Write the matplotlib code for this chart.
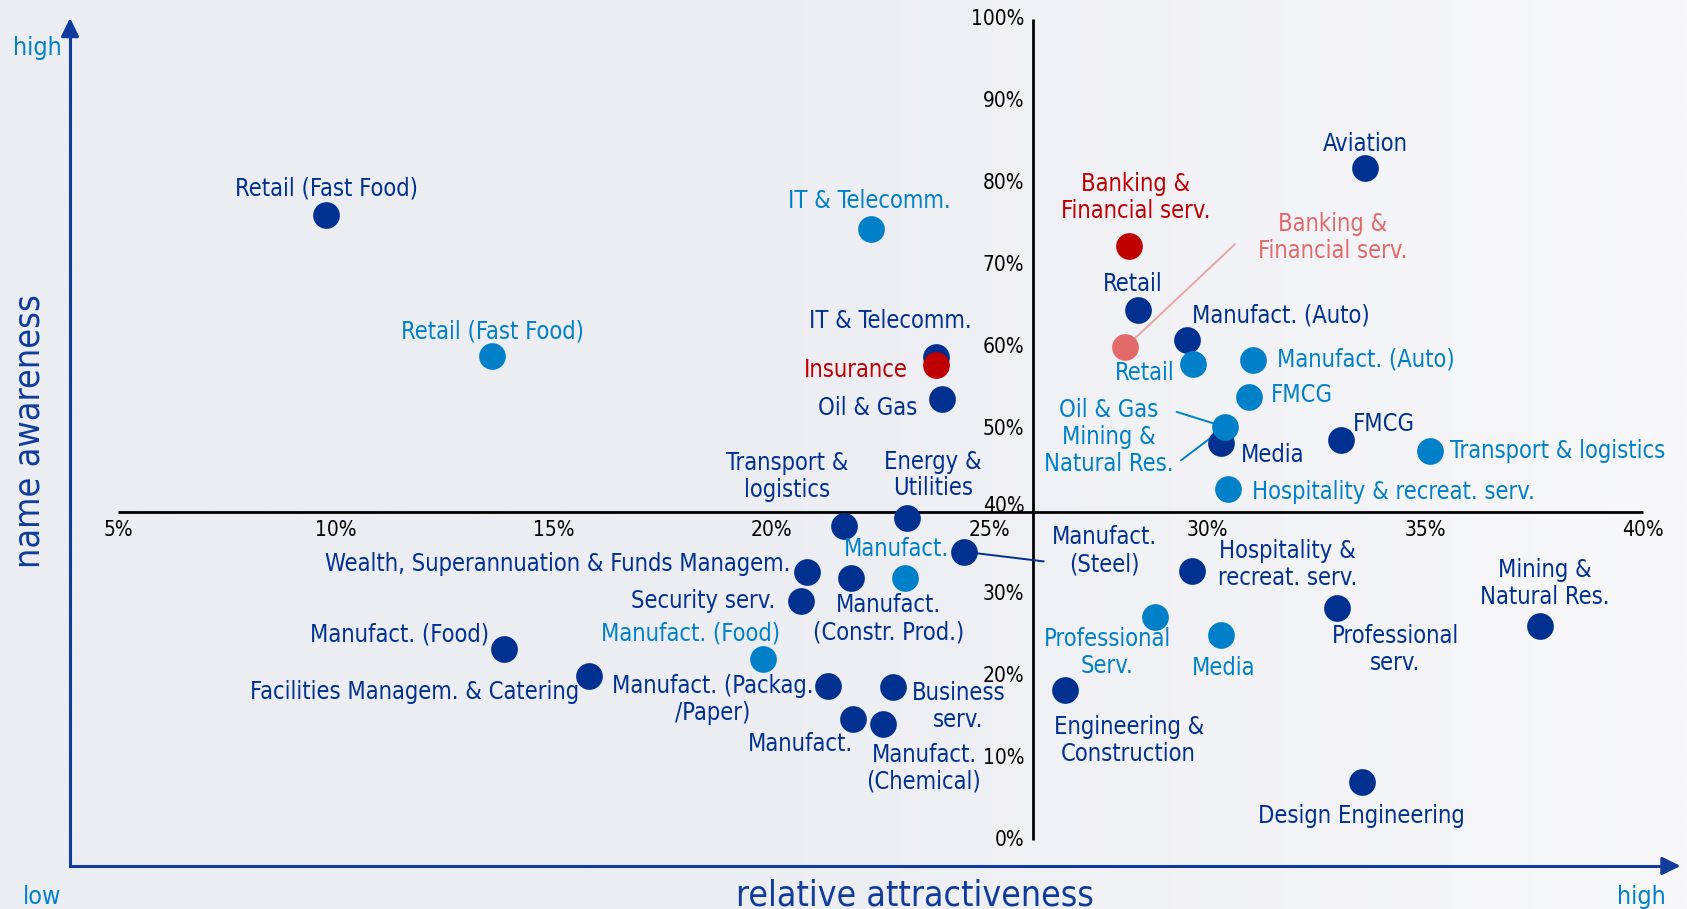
import os
import numpy as np
import matplotlib
matplotlib.use("Agg")
import matplotlib.pyplot as plt
from matplotlib import font_manager as fm
from matplotlib.font_manager import FontProperties

# ---------------- data ----------------
dark_names = ["Retail (Fast Food)", "IT & Telecomm.", "Oil & Gas", "Aviation", "Retail",
              "Manufact. (Auto)", "Media", "FMCG", "Transport &\nlogistics", "Energy &\nUtilities",
              "Manufact.\n(Steel)", "Wealth, Superannuation & Funds Managem.",
              "Manufact.\n(Constr. Prod.)", "Security serv.", "Manufact. (Food)",
              "Facilities Managem. & Catering", "Manufact. (Packag.\n/Paper)", "Business\nserv.",
              "Manufact.", "Manufact.\n(Chemical)", "Hospitality &\nrecreat. serv.",
              "Professional\nserv.", "Mining &\nNatural Res.", "Engineering &\nConstruction",
              "Design Engineering"]
dark_x = [9.78, 23.77, 23.91, 33.62, 28.40, 29.53, 30.32, 33.08, 21.66, 23.12, 24.42, 20.82,
          21.82, 20.67, 13.85, 15.82, 21.30, 22.78, 21.87, 22.56, 29.64, 32.98, 37.64, 26.74, 33.54]
dark_y = [76.1, 58.8, 53.7, 81.8, 64.6, 60.9, 48.4, 48.7, 38.2, 39.2, 35.1, 32.6,
          31.9, 29.1, 23.2, 20.0, 18.8, 18.6, 14.7, 14.1, 32.8, 28.2, 26.1, 18.3, 7.0]

light_names = ["Retail (Fast Food)", "IT & Telecomm.", "Retail", "Manufact. (Auto)", "FMCG",
               "Oil & Gas\nMining &\nNatural Res.", "Transport & logistics",
               "Hospitality & recreat. serv.", "Manufact.", "Manufact. (Food)",
               "Professional\nServ.", "Media"]
light_x = [13.58, 22.28, 29.67, 31.04, 30.95, 30.41, 35.11, 30.47, 23.07, 19.81, 28.79, 30.32]
light_y = [58.9, 74.4, 58.0, 58.5, 53.9, 50.3, 47.4, 42.8, 31.9, 22.0, 27.1, 24.9]

red_names = ["Banking &\nFinancial serv.", "Insurance"]
red_x = [28.21, 23.77]
red_y = [72.4, 57.8]

pink_names = ["Banking &\nFinancial serv."]
pink_x = [28.12]
pink_y = [60.0]

x_ticks = [5, 10, 15, 20, 25, 30, 35, 40]
x_tick_labels = ["5%", "10%", "15%", "20%", "25%", "30%", "35%", "40%"]
y_ticks = [0, 10, 20, 30, 40, 50, 60, 70, 80, 90, 100]
y_tick_labels = ["0%", "10%", "20%", "30%", "40%", "50%", "60%", "70%", "80%", "90%", "100%"]
x_cross = 26   # vertical crosshair position (%)
y_cross = 40   # horizontal crosshair position (%)

# ---------------- layout (reference-pixel offsets from each dot) ----------------
dark_label_pos = [(0, -25, 'center'), (-42, -34, 'center'), (-23, 8, 'right'), (0, -23, 'center'),
                  (-4, -24, 'center'), (5, -23, 'left'), (18, 12, 'left'), (11, -15, 'left'),
                  (-53, -46, 'center'), (24, -40, 'center'), (130, -1, 'center'), (-16, -8, 'right'),
                  (35, 38, 'center'), (-24, 0, 'right'), (-13, -14, 'right'), (-10, 15, 'right'),
                  (-107, 13, 'center'), (61, 18, 'center'), (-49, 23, 'center'), (38, 41, 'center'),
                  (89, -6, 'center'), (54, 38, 'center'), (4, -39, 'center'), (59, 47, 'center'),
                  (0, 31, 'center')]
light_label_pos = [(1, -23, 'center'), (-1, -26, 'center'), (-45, 9, 'center'), (23, 0, 'left'),
                   (21, -2, 'left'), (-108, 9, 'center'), (19, 0, 'left'), (23, 3, 'left'),
                   (-8, -27, 'center'), (-68, -24, 'center'), (-44, 33, 'center'), (2, 30, 'center')]
red_label_pos = [(6, -45, 'center'), (-26, 4, 'right')]
pink_label_pos = [(193, -102, 'center')]

DARK = "#003090"
LIGHT = "#0080C8"
RED = "#C00000"
PINK = "#E36A6A"
AXBLUE = "#0F3C9C"

W, H = 1568.0, 845.0          # reference frame size
PX_X0, PX_PER_X = 109.6, 40.5  # x=5% at 109.6 px, 40.5 px per %
PY_Y0, PY_PER_Y = 780.7, 7.63  # y=0% at 780.7 px, 7.63 px per %
PT = 1687.0 / 1568.0 * 72.0 / 100.0   # reference px -> points


def xd(px):
    return 5 + (px - PX_X0) / PX_PER_X


def yd(py):
    return (PY_Y0 - py) / PY_PER_Y


# ---------------- fonts ----------------
cond_path = None
for f in fm.fontManager.ttflist:
    if os.path.basename(f.fname) == "DejaVuSansCondensed.ttf":
        cond_path = f.fname
        break
if cond_path is None:
    for p in fm.findSystemFonts():
        if os.path.basename(p) == "DejaVuSansCondensed.ttf":
            cond_path = p
            break


def FP(size):
    if cond_path:
        return FontProperties(fname=cond_path, size=size)
    return FontProperties(family=["Liberation Sans", "DejaVu Sans"], size=size)


# ---------------- figure ----------------
fig = plt.figure(figsize=(16.87, 9.09), dpi=100)

bg = fig.add_axes([0, 0, 1, 1], zorder=0)
cols = np.linspace(0, 1, 600)
t = np.clip((cols - 0.4) / 0.6, 0, 1) ** 1.2
c0 = np.array([236, 237, 243]) / 255.0
c1 = np.array([248, 248, 250]) / 255.0
grad = (c0[None, :] * (1 - t[:, None]) + c1[None, :] * t[:, None])[None, :, :]
bg.imshow(grad, aspect="auto", extent=[0, 1, 0, 1])
bg.set_axis_off()

ax = fig.add_axes([0, 0, 1, 1], zorder=1)
ax.set_facecolor("none")
ax.set_xlim(xd(0), xd(W))
ax.set_ylim(yd(H), yd(0))
ax.set_axis_off()

# outer L-shaped axes with arrows
xc, yc = xd(65.1), yd(805)
ytop, xright = yd(16.7), xd(1562)
head_px = 14.0
hx, hy = head_px / PX_PER_X, head_px / PY_PER_Y
ax.plot([xc, xc, xright - hx], [ytop - hy, yc, yc], color=AXBLUE, lw=2.2,
        solid_joinstyle="miter", solid_capstyle="butt", zorder=2)
astyle = "-|>,head_length=0.55,head_width=0.27"
ax.annotate("", xy=(xc, ytop), xytext=(xc, ytop - hy),
            arrowprops=dict(arrowstyle=astyle, color=AXBLUE, lw=2.2, shrinkA=0, shrinkB=0,
                            mutation_scale=20), zorder=2)
ax.annotate("", xy=(xright, yc), xytext=(xright - hx, yc),
            arrowprops=dict(arrowstyle=astyle, color=AXBLUE, lw=2.2, shrinkA=0, shrinkB=0,
                            mutation_scale=20), zorder=2)

# crosshair
ax.plot([x_ticks[0], x_ticks[-1]], [y_cross, y_cross], color="black", lw=2, zorder=2,
        solid_capstyle="butt")
ax.plot([x_cross, x_cross], [y_ticks[0], y_ticks[-1]], color="black", lw=2, zorder=2,
        solid_capstyle="butt")

for v, lab in zip(x_ticks, x_tick_labels):
    ax.annotate(lab, (v, y_cross), xytext=(0, -17 * PT), textcoords="offset points",
                ha="center", va="center", color="black", fontproperties=FP(15), zorder=3)
for v, lab in zip(y_ticks, y_tick_labels):
    dy = 5 * PT if v == y_cross else 0
    ax.annotate(lab, (x_cross, v), xytext=(-8 * PT, dy), textcoords="offset points",
                ha="right", va="center", color="black", fontproperties=FP(15), zorder=3)

# leader lines
def leader(x, y, dx, dy, color, lw=1.4):
    ax.annotate("", xy=(x, y), xytext=(dx * PT, -dy * PT), textcoords="offset points",
                arrowprops=dict(arrowstyle="-", color=color, lw=lw, shrinkA=0, shrinkB=0),
                zorder=3)

i_steel = dark_names.index("Manufact.\n(Steel)")
leader(dark_x[i_steel], dark_y[i_steel], 74, 9, DARK)
leader(pink_x[0], pink_y[0], 102, -96, "#E8A4A6", lw=1.4)
i_og = light_names.index("Oil & Gas\nMining &\nNatural Res.")
leader(light_x[i_og], light_y[i_og], -45, -14, LIGHT)
leader(light_x[i_og], light_y[i_og], -41, 31, LIGHT)

# dots
S = 370
ax.scatter(dark_x, dark_y, s=S, color=DARK, linewidths=0, zorder=4)
ax.scatter(light_x, light_y, s=S, color=LIGHT, linewidths=0, zorder=5)
ax.scatter(red_x, red_y, s=S, color=RED, linewidths=0, zorder=6)
ax.scatter(pink_x, pink_y, s=S, color=PINK, linewidths=0, zorder=6)

# labels
def labels(names, xs, ys, pos, color):
    for n, x, y, (dx, dy, ha) in zip(names, xs, ys, pos):
        ax.annotate(n, (x, y), xytext=(dx * PT, -dy * PT), textcoords="offset points",
                    ha=ha, va="center", multialignment="center", color=color,
                    fontproperties=FP(17), linespacing=1.15, zorder=7)

labels(dark_names, dark_x, dark_y, dark_label_pos, DARK)
labels(light_names, light_x, light_y, light_label_pos, LIGHT)
labels(red_names, red_x, red_y, red_label_pos, RED)
labels(pink_names, pink_x, pink_y, pink_label_pos, PINK)

# axis titles and low/high markers
fig.text(34.5 / W, 1 - 51 / H, "high", color=LIGHT, ha="center", va="baseline",
         fontproperties=FP(18))
fig.text(39 / W, 1 - 840 / H, "low", color=LIGHT, ha="center", va="baseline",
         fontproperties=FP(18))
fig.text(1526 / W, 1 - 840 / H, "high", color=LIGHT, ha="center", va="baseline",
         fontproperties=FP(18))
fig.text(27 / W, 1 - 401 / H, "name awareness", color=AXBLUE, ha="center", va="center",
         rotation=90, fontproperties=FP(25.8))
fig.text(850 / W, 1 - 842 / H, "relative attractiveness", color=AXBLUE, ha="center",
         va="baseline", fontproperties=FP(25.5))

fig.savefig("out.png", dpi=100)
